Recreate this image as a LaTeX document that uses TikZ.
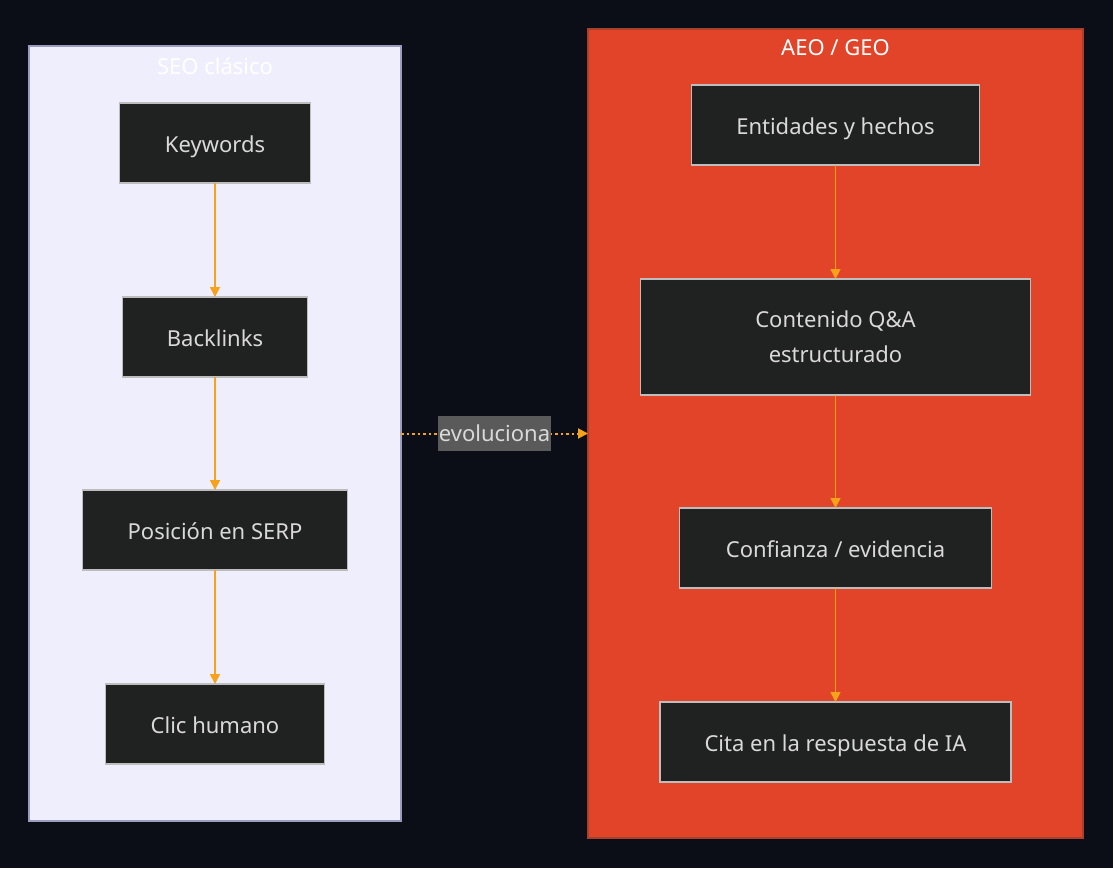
\documentclass[tikz,border=0pt]{standalone}
\usepackage{fontspec}
\setmainfont{Noto Sans}
\usepackage{xcolor}
\usetikzlibrary{positioning,arrows.meta}

\definecolor{pagebg}{HTML}{0B0E17}
\definecolor{seofill}{HTML}{EFEEFD}
\definecolor{seoline}{HTML}{9C9BC0}
\definecolor{aeofill}{HTML}{E14429}
\definecolor{aeoline}{HTML}{A8402D}
\definecolor{boxfill}{HTML}{202121}
\definecolor{boxline}{HTML}{BDBDBD}
\definecolor{boxtext}{HTML}{D9D9D9}
\definecolor{flowcol}{HTML}{F7A21B}
\definecolor{tagfill}{HTML}{5A5A5A}

\begin{document}
\begin{tikzpicture}[
			x=1pt, y=-1pt,
			node distance=114pt,
			cluster/.style={
				draw,
				line width=1.2pt,
				inner sep=0pt,
				outer sep=0pt
			},
			title/.style={
				text=white,
				font=\fontsize{22}{26}\selectfont
			},
			stepbox/.style={
				draw=boxline,
				line width=1.2pt,
				fill=boxfill,
				text=boxtext,
				outer sep=0pt,
				minimum height=80pt,
				text height=24pt,
				text depth=5pt,
				align=center,
				font=\fontsize{22}{35}\selectfont
			},
			flow/.style={
				draw=flowcol,
				line width=1.6pt,
				-{Triangle[length=10pt,width=10pt]}
			},
			tag/.style={
				fill=tagfill,
				text=boxtext,
				inner xsep=1pt,
				minimum height=35pt,
				font=\fontsize{22}{26}\selectfont
			}
			]
			\fill[pagebg] (0,0) rectangle (1113,868);
			\useasboundingbox (0,0) rectangle (1113,868);

			% clusters
			\node[cluster, draw=seoline, fill=seofill, minimum width=372pt, minimum height=775pt] (seo) at (215,433.5) {};
			\node[cluster, draw=aeoline, fill=aeofill, minimum width=495pt, minimum height=809pt] (aeo) at (835.5,433.5) {};
			\node[title] (seot) at (215,66) {SEO clásico};
			\node[title] (aeot) at (835.5,48) {AEO / GEO};

			% SEO clasico
			\node[stepbox, minimum width=191pt] (kw) at (215,143) {Keywords};
			\node[stepbox, minimum width=185pt, below=114pt of kw.south, anchor=north] (bl) {Backlinks};
			\node[stepbox, minimum width=265pt, below=113pt of bl.south, anchor=north] (serp) {Posición en SERP};
			\node[stepbox, minimum width=219pt, below=114pt of serp.south, anchor=north] (clic) {Clic humano};

			% AEO / GEO
			\node[stepbox, minimum width=288pt] (ent) at (835.5,125) {Entidades y hechos};
			\node[stepbox, minimum width=390pt, minimum height=116pt, text height=, text depth=, below=114pt of ent.south, anchor=north] (qa) {Contenido Q\&A\\estructurado};
			\node[stepbox, minimum width=312pt, below=113pt of qa.south, anchor=north] (conf) {Confianza / evidencia};
			\node[stepbox, minimum width=351pt, below=114pt of conf.south, anchor=north] (cita) {Cita en la respuesta de IA};

			\draw[flow] (kw) -- (bl);
			\draw[flow] (bl) -- (serp);
			\draw[flow] (serp) -- (clic);
			\draw[flow] (ent) -- (qa);
			\draw[flow] (qa) -- (conf);
			\draw[flow] (conf) -- (cita);

			\draw[flow, line width=2pt, dash pattern=on 2.5pt off 3pt] (seo.east) -- node[tag] (evo) {evoluciona} (aeo.west);
		\end{tikzpicture}
\end{document}
